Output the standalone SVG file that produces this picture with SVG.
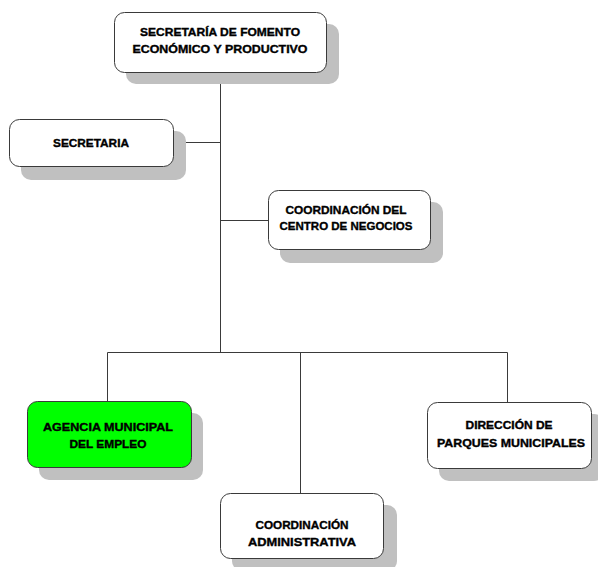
<svg xmlns="http://www.w3.org/2000/svg" width="598" height="567" viewBox="0 0 598 567">
<style>
.sh{fill:#c0c0c0;stroke:none}
.bx{fill:#ffffff;stroke:#3a3a3a;stroke-width:1}
.gr{fill:#00ff00;stroke:#3a3a3a;stroke-width:1}
.ln{stroke:#3a3a3a;stroke-width:1;fill:none}
text{font-family:"Liberation Sans",Arial,sans-serif;font-weight:bold;font-size:11px;fill:#000;stroke:#000;stroke-width:0.35;text-anchor:middle}
</style>
<rect width="598" height="567" fill="#ffffff"/>
<g id="connectors">
<path class="ln" d="M220.5 72V352.5M174 142.5H220.5M220.5 220.5H268M107.5 352.5H507.5M107.5 352.5V401M300.5 352.5V493M507.5 352.5V402"/>
</g>
<g id="n_secretaria_fomento">
<rect class="sh" x="126" y="24" width="213" height="60" rx="10"/>
<rect class="bx" x="114.5" y="12.5" width="212" height="60" rx="10"/>
<text x="220" y="36" textLength="160" lengthAdjust="spacingAndGlyphs">SECRETARÍA DE FOMENTO</text>
<text x="220" y="53" textLength="175" lengthAdjust="spacingAndGlyphs">ECONÓMICO Y PRODUCTIVO</text>
</g>
<g id="n_secretaria">
<rect class="sh" x="21" y="131" width="165" height="49" rx="10"/>
<rect class="bx" x="9.5" y="119.5" width="164" height="47" rx="10"/>
<text x="91" y="147" textLength="76" lengthAdjust="spacingAndGlyphs">SECRETARIA</text>
</g>
<g id="n_coord_negocios">
<rect class="sh" x="280" y="202" width="163" height="61" rx="10"/>
<rect class="bx" x="268.5" y="190.5" width="162" height="59" rx="10"/>
<text x="346" y="214" textLength="121" lengthAdjust="spacingAndGlyphs">COORDINACIÓN DEL</text>
<text x="346" y="230" textLength="133" lengthAdjust="spacingAndGlyphs">CENTRO DE NEGOCIOS</text>
</g>
<g id="n_agencia">
<rect class="sh" x="39" y="413" width="164" height="67" rx="10"/>
<rect class="gr" x="27.5" y="401.5" width="164" height="66" rx="10"/>
<text x="108" y="431" textLength="130" lengthAdjust="spacingAndGlyphs">AGENCIA MUNICIPAL</text>
<text x="108" y="448" textLength="77" lengthAdjust="spacingAndGlyphs">DEL EMPLEO</text>
</g>
<g id="n_coord_admin">
<rect class="sh" x="232" y="505" width="165" height="66" rx="10"/>
<rect class="bx" x="220.5" y="493.5" width="163" height="65" rx="10"/>
<text x="302" y="529" textLength="93" lengthAdjust="spacingAndGlyphs">COORDINACIÓN</text>
<text x="302" y="546" textLength="108" lengthAdjust="spacingAndGlyphs">ADMINISTRATIVA</text>
</g>
<g id="n_direccion">
<rect class="sh" x="439" y="414" width="165" height="67" rx="10"/>
<rect class="bx" x="427.5" y="402.5" width="164" height="66" rx="10"/>
<text x="509" y="429" textLength="87" lengthAdjust="spacingAndGlyphs">DIRECCIÓN DE</text>
<text x="511" y="447" textLength="148" lengthAdjust="spacingAndGlyphs">PARQUES MUNICIPALES</text>
</g>
</svg>
